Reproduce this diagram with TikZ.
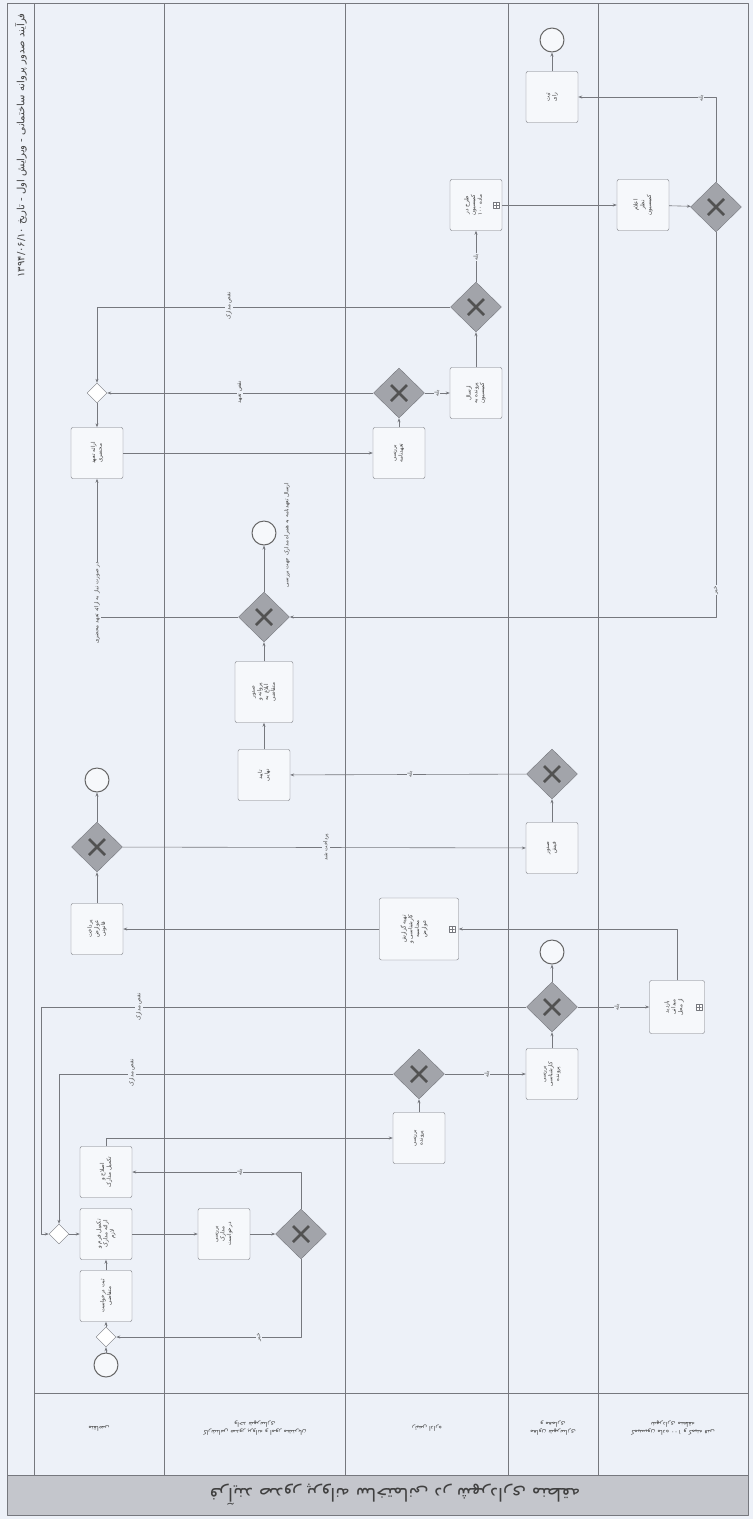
\documentclass[tikz,border=0pt]{standalone}
\usepackage{fontspec}
\newfontfamily\farsi[Script=Arabic]{DejaVu Sans}
\TeXXeTstate=1
\usetikzlibrary{shapes.geometric}
\usetikzlibrary{arrows.meta}

\definecolor{paper}{RGB}{237,241,248}
\definecolor{ink}{RGB}{118,120,126}
\definecolor{gatefill}{RGB}{162,164,170}
\definecolor{band}{RGB}{196,198,204}

\newcommand\fa[1]{\beginR #1\endR}

\tikzset{
  task/.style={draw=ink, fill=paper!50!white, rounded corners=2pt, minimum width=52pt, minimum height=51pt, inner sep=0pt},
  gate/.style={diamond, draw=ink, fill=gatefill, minimum width=51pt, minimum height=50pt, inner sep=0pt,
    path picture={\draw[line width=2.8pt, black!68]
      ([shift={(-8pt,-8pt)}]path picture bounding box.center) -- ([shift={(8pt,8pt)}]path picture bounding box.center)
      ([shift={(-8pt,8pt)}]path picture bounding box.center) -- ([shift={(8pt,-8pt)}]path picture bounding box.center);}},
  evt/.style={circle, draw=black!60, line width=1pt, fill=paper!50!white, minimum size=24pt, inner sep=0pt},
  merge/.style={diamond, draw=ink, fill=white, minimum width=20pt, minimum height=20pt, inner sep=0pt},
  flow/.style={draw=ink, line width=0.6pt, -{Stealth[length=4pt,width=3pt]}},
  lbl/.style={font=\farsi\fontsize{5.5}{6.5}\selectfont, rotate=90, fill=paper, inner sep=0.8pt, text=black!72},
  tasktxt/.style={font=\farsi\fontsize{5.6}{6.8}\selectfont, rotate=90, align=center, text=black!75},
  headtxt/.style={font=\farsi\fontsize{6.4}{8}\selectfont, rotate=180, align=center, text=black!72},
  submk/.style={draw=ink, fill=white, minimum size=6pt, inner sep=0pt,
    path picture={\draw[ink] (path picture bounding box.north) -- (path picture bounding box.south)
      (path picture bounding box.west) -- (path picture bounding box.east);}}
}

\begin{document}
\begin{tikzpicture}[x=1pt, y=-1pt, line join=round]
  \useasboundingbox (0,0) rectangle (753,1519);
  % paper, pool and lanes
  \fill[paper] (0,0) rectangle (753,1519);
  \fill[band] (7,1475) rectangle (748,1515);
  \draw[ink, line width=0.9pt] (7,3) rectangle (748,1515);
  \draw[ink, line width=0.8pt] (7,1475) -- (748,1475);
  \draw[ink, line width=0.8pt] (34,1393) -- (748,1393);
  \foreach \lx in {34,164,345,508,598}{
    \draw[ink, line width=0.8pt] (\lx,3) -- (\lx,1475);
  }
  \node[font=\farsi\fontsize{18}{20}\selectfont, rotate=180, text=black!75] (title) at (395,1495)
    {\fa{فرآیند صدور پروانه ساختمانی در شهرداری منطقه}};
  \node[font=\farsi\fontsize{10}{11}\selectfont, rotate=90, anchor=east, text=black!75] (pooltxt) at (21,10)
    {\fa{فرآیند صدور پروانه ساختمانی - ویرایش اول - تاریخ \beginL۱۳۹۴/۰۶/۱۰\endL}};

  % lane headers
  \node[headtxt] (h1) at (99,1428) {\fa{متقاضی}};
  \node[headtxt] (h2) at (255,1428) {\fa{کارشناس صدور پروانه و امور مشتریان}\\\fa{واحد شهرسازی}};
  \node[headtxt] (h3) at (427,1428) {\fa{رئیس اداره}};
  \node[headtxt] (h4) at (553,1428) {\fa{معاون شهرسازی}\\\fa{و معماری}};
  \node[headtxt] (h5) at (673,1428) {\fa{کمیسیون ماده \beginL۱۰۰\endL{} و کمیته فنی}\\\fa{شهرداری منطقه}};

  % events and merges
  \node[evt] (s1) at (106,1365) {};
  \node[merge] (m1) at (106,1337) {};
  \node[merge] (m2) at (59,1234) {};
  \node[merge] (m3) at (97,393) {};
  \node[evt] (e1) at (97,780) {};
  \node[evt] (e2) at (264,533) {};
  \node[evt] (e3) at (552,952) {};
  \node[evt] (e4) at (552,40) {};

  % tasks
  \node[task] (tA) at (106,1296) {};
  \node[task] (tB) at (106,1234) {};
  \node[task] (tC) at (106,1172) {};
  \node[task] (tD) at (224,1234) {};
  \node[task] (tE) at (419,1138) {};
  \node[task] (tF) at (552,1074) {};
  \node[task, minimum width=55pt, minimum height=53pt] (tK) at (677,1007) {};
  \node[task, minimum width=79pt, minimum height=62pt] (tJ) at (419,929) {};
  \node[task] (tI) at (97,929) {};
  \node[task] (tH) at (552,848) {};
  \node[task] (tG) at (264,775) {};
  \node[task, minimum width=58pt, minimum height=61pt] (tN) at (264,692) {};
  \node[task] (tL) at (97,453) {};
  \node[task] (tM) at (399,453) {};
  \node[task] (tP) at (476,393) {};
  \node[task] (tR) at (476,205) {};
  \node[task] (tS) at (643,205) {};
  \node[task] (tU) at (552,97) {};

  \node[submk] (tJm) at ([xshift=-7pt]tJ.east) {};
  \node[submk] (tKm) at ([xshift=-6pt]tK.east) {};
  \node[submk] (tRm) at ([xshift=-6pt]tR.east) {};

  % gateways
  \node[gate] (g2) at (301,1234) {};
  \node[gate] (g4) at (419,1074) {};
  \node[gate] (g6) at (552,1007) {};
  \node[gate] (g1) at (97,847) {};
  \node[gate] (g7) at (552,774) {};
  \node[gate] (g3) at (264,617) {};
  \node[gate] (g5) at (399,393) {};
  \node[gate] (g8) at (476,307) {};
  \node[gate] (g9) at (716,207) {};

  % task texts
  \node[tasktxt] (tAx) at (tA) {\fa{ثبت درخواست}\\\fa{متقاضی}};
  \node[tasktxt] (tBx) at (tB) {\fa{تکمیل فرم و}\\\fa{ارائه مدارک}\\\fa{لازم}};
  \node[tasktxt] (tCx) at (tC) {\fa{اصلاح و}\\\fa{تکمیل مدارک}};
  \node[tasktxt] (tDx) at (tD) {\fa{بررسی}\\\fa{مدارک}\\\fa{درخواست}};
  \node[tasktxt] (tEx) at (tE) {\fa{بررسی}\\\fa{پرونده}};
  \node[tasktxt] (tFx) at (tF) {\fa{بررسی}\\\fa{کارشناسی}\\\fa{پرونده}};
  \node[tasktxt] (tKx) at ([xshift=-3pt]tK.center) {\fa{بازدید}\\\fa{میدانی}\\\fa{از محل}};
  \node[tasktxt] (tJx) at ([xshift=-5pt]tJ.center) {\fa{تهیه گزارش}\\\fa{کارشناسی و}\\\fa{محاسبه}\\\fa{عوارض}};
  \node[tasktxt] (tIx) at (tI) {\fa{پرداخت}\\\fa{عوارض}\\\fa{قانونی}};
  \node[tasktxt] (tHx) at (tH) {\fa{صدور}\\\fa{فیش}};
  \node[tasktxt] (tGx) at (tG) {\fa{تایید}\\\fa{نهایی}};
  \node[tasktxt] (tNx) at (tN) {\fa{صدور}\\\fa{پروانه و}\\\fa{ابلاغ به}\\\fa{متقاضی}};
  \node[tasktxt] (tLx) at (tL) {\fa{ارائه تعهد}\\\fa{محضری}};
  \node[tasktxt] (tMx) at (tM) {\fa{بررسی}\\\fa{تعهدنامه}};
  \node[tasktxt] (tPx) at (tP) {\fa{ارسال}\\\fa{پرونده به}\\\fa{کمیسیون}};
  \node[tasktxt] (tRx) at ([xshift=-3pt]tR.center) {\fa{طرح در}\\\fa{کمیسیون}\\\fa{ماده \beginL۱۰۰\endL}};
  \node[tasktxt] (tSx) at (tS) {\fa{اعلام}\\\fa{نظر}\\\fa{کمیسیون}};
  \node[tasktxt] (tUx) at (tU) {\fa{ثبت}\\\fa{رای}};

  % sequence flows
  \draw[flow] (s1) -- (m1);
  \draw[flow] (m1) -- (tA);
  \draw[flow] (tA) -- (tB);
  \draw[flow] (m2) -- (tB);
  \draw[flow] (tB) -- (tD);
  \draw[flow] (tD) -- (g2);
  \draw[flow] (g2.south) |- (m1.east);
  \draw[flow] (g2.north) |- (tC.east);
  \draw[flow] (tC.north) |- (tE.west);
  \draw[flow] (tE) -- (g4);
  \draw[flow] (g4) -- (tF);
  \draw[flow] (g4.west) -| (m2.north);
  \draw[flow] (tF) -- (g6);
  \draw[flow] (g6) -- (e3);
  \draw[flow] (g6) -- (tK);
  \coordinate (c1) at (41,1234);
  \draw[flow] (g6.west) -| (c1) -- (m2.west);
  \draw[flow] (tK.north) |- (tJ.east);
  \draw[flow] (tJ) -- (tI);
  \draw[flow] (tI) -- (g1);
  \draw[flow] (g1) -- (e1);
  \draw[flow] (g1) -- (tH);
  \draw[flow] (tH) -- (g7);
  \draw[flow] (g7) -- (tG);
  \draw[flow] (tG) -- (tN);
  \draw[flow] (tN) -- (g3);
  \draw[flow] (g3) -- (e2);
  \draw[flow] (g3.west) -| (tL.south);
  \draw[flow] (tL) -- (tM);
  \draw[flow] (tM) -- (g5);
  \draw[flow] (g5) -- (tP);
  \draw[flow] (g5) -- (m3);
  \draw[flow] (m3) -- (tL);
  \draw[flow] (g8.west) -| (m3.north);
  \draw[flow] (tP) -- (g8);
  \draw[flow] (g8) -- (tR);
  \draw[flow] (tR) -- (tS);
  \draw[flow] (tS) -- (g9);
  \draw[flow] (g9.north) |- (tU.east);
  \draw[flow] (tU) -- (e4);
  \draw[flow] (g9.south) |- (g3.east);

  % flow labels
  \node[lbl] (l1) at (259,1337) {\fa{خیر}};
  \node[lbl] (l2) at (240,1172) {\fa{بله}};
  \node[lbl] (l3) at (487,1074) {\fa{بله}};
  \node[lbl] (l4) at (132,1073) {\fa{نقص مدارک}};
  \node[lbl] (l5) at (617,1007) {\fa{بله}};
  \node[lbl] (l6) at (139,1007) {\fa{نقص مدارک}};
  \node[lbl] (l7) at (326,847) {\fa{پرداخت شد}};
  \node[lbl] (l8) at (410,774) {\fa{بله}};
  \node[lbl] (l9) at (97,603) {\fa{در صورت نیاز به ارائه تعهد محضری}};
  \node[lbl] (l10) at (287,535) {\fa{ارسال تعهدنامه به همراه مدارک جهت بررسی}};
  \node[lbl] (l11) at (437,393) {\fa{بله}};
  \node[lbl] (l12) at (240,392) {\fa{نقص تعهد}};
  \node[lbl] (l13) at (229,306) {\fa{نقص مدارک}};
  \node[lbl] (l14) at (476,257) {\fa{بله}};
  \node[lbl] (l15) at (701,98) {\fa{بله}};
  \node[lbl] (l16) at (716,590) {\fa{خیر}};
\end{tikzpicture}
\end{document}
